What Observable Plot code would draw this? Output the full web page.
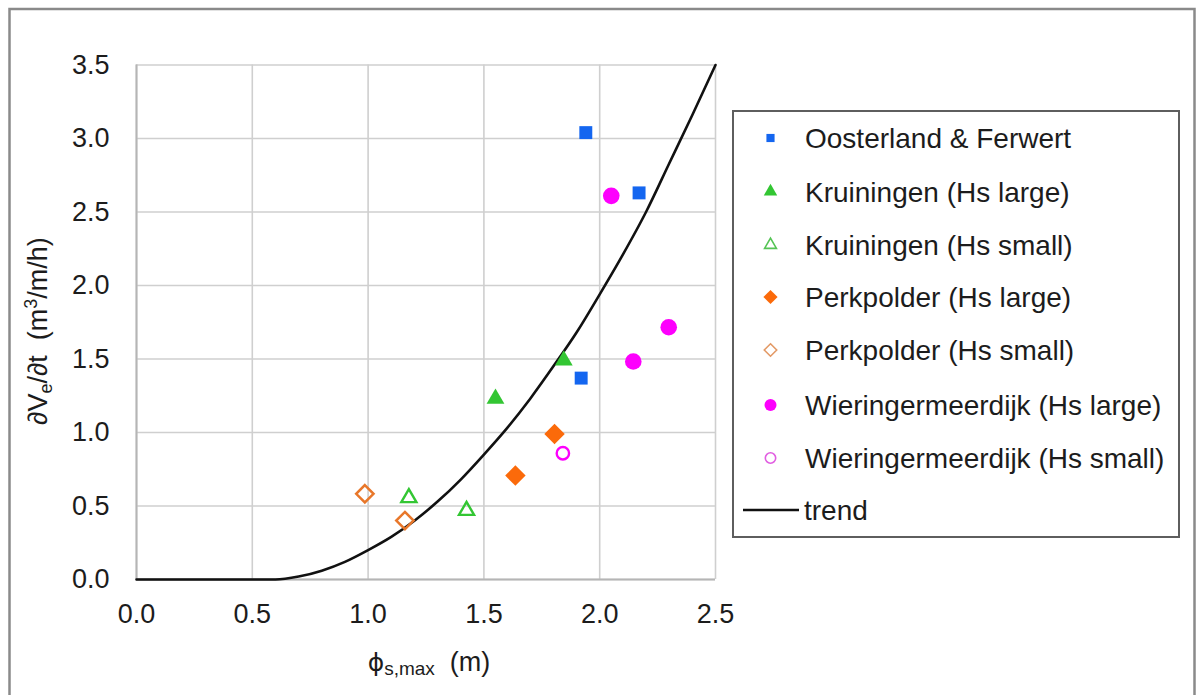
<!DOCTYPE html>
<html>
<head>
<meta charset="utf-8">
<script src="https://cdn.jsdelivr.net/npm/d3@7"></script>
<script src="https://cdn.jsdelivr.net/npm/@observablehq/plot@0.6"></script>
<style>
  html, body { margin: 0; padding: 0; background: #fff; }
  #chart { width: 1200px; height: 695px; overflow: hidden; }
</style>
</head>
<body>
<div id="chart"></div>
<script>
// ---- data ----
const xTicks = [0.0, 0.5, 1.0, 1.5, 2.0, 2.5];
const yTicks = [0.0, 0.5, 1.0, 1.5, 2.0, 2.5, 3.0, 3.5];

const seriesNames = [
  "Oosterland & Ferwert",
  "Kruiningen (Hs large)",
  "Kruiningen (Hs small)",
  "Perkpolder (Hs large)",
  "Perkpolder (Hs small)",
  "Wieringermeerdijk (Hs large)",
  "Wieringermeerdijk (Hs small)",
  "trend"
];

const oosterlandX = [1.94, 2.17, 1.92];
const oosterlandY = [3.04, 2.63, 1.37];
const kruiningenLargeX = [1.55, 1.845];
const kruiningenLargeY = [1.23, 1.49];
const kruiningenSmallX = [1.176, 1.425];
const kruiningenSmallY = [0.556, 0.469];
const perkpolderLargeX = [1.805, 1.636];
const perkpolderLargeY = [0.99, 0.707];
const perkpolderSmallX = [0.986, 1.159];
const perkpolderSmallY = [0.583, 0.401];
const wieringerLargeX = [2.05, 2.298, 2.145];
const wieringerLargeY = [2.61, 1.716, 1.483];
const wieringerSmallX = [1.841];
const wieringerSmallY = [0.859];

const trendX = [0.0, 0.1, 0.2, 0.3, 0.4, 0.5, 0.6, 0.7, 0.8, 0.9, 1.0, 1.1, 1.2, 1.3, 1.4, 1.5, 1.6, 1.7, 1.8, 1.9, 2.0, 2.1, 2.2, 2.3, 2.4, 2.5];
const trendY = [0, 0, 0, 0, 0, 0, 0, 0.02, 0.06, 0.12, 0.20, 0.29, 0.40, 0.53, 0.68, 0.85, 1.03, 1.23, 1.45, 1.68, 1.94, 2.21, 2.50, 2.83, 3.16, 3.50];

// ---- styles ----
const cBlue = "#1466f0";
const cGreen = "#33c633";
const cOrange = "#fb6a0a";
const cOrangeOpen = "#e8772a";
const cMagenta = "#fd00fd";

const zip = (xs, ys) => xs.map((x, i) => ({x, y: ys[i]}));
const trend = zip(trendX, trendY);

const fmt = d3.format(".1f");

const chart = Plot.plot({
  width: 1200,
  height: 695,
  marginLeft: 136,
  marginRight: 485,
  marginTop: 64.5,
  marginBottom: 116,
  style: {fontFamily: "'Liberation Sans', Arial, sans-serif", fontSize: "27px", color: "#1c1c1c", background: "transparent"},
  x: {domain: [0, 2.5], ticks: xTicks, tickFormat: fmt, tickSize: 0, tickPadding: 24, label: null},
  y: {domain: [0, 3.5], ticks: yTicks, tickFormat: fmt, tickSize: 0, tickPadding: 27, label: null},
  marks: [
    Plot.ruleX(xTicks, {stroke: "#cfcfcf", strokeWidth: 1.6}),
    Plot.ruleY(yTicks, {stroke: "#cfcfcf", strokeWidth: 1.6}),
    Plot.ruleX([0], {stroke: "#b5b5b5", strokeWidth: 2}),
    Plot.ruleY([0], {stroke: "#b5b5b5", strokeWidth: 2}),
    Plot.line(trend, {x: "x", y: "y", stroke: "#111", strokeWidth: 2.6, curve: "monotone-x"}),
    Plot.dot(zip(oosterlandX, oosterlandY), {x: "x", y: "y", symbol: "square", r: 7.3, fill: cBlue}),
    Plot.dot(zip(kruiningenLargeX, kruiningenLargeY), {x: "x", y: "y", symbol: "triangle", r: 6.6, fill: cGreen}),
    Plot.dot(zip(kruiningenSmallX, kruiningenSmallY), {x: "x", y: "y", symbol: "triangle", r: 5.6, fill: "none", stroke: cGreen, strokeWidth: 2.4}),
    Plot.dot(zip(perkpolderLargeX, perkpolderLargeY), {x: "x", y: "y", symbol: "diamond2", r: 9.2, fill: cOrange}),
    Plot.dot(zip(perkpolderSmallX, perkpolderSmallY), {x: "x", y: "y", symbol: "diamond2", r: 7.8, fill: "none", stroke: cOrangeOpen, strokeWidth: 2.5}),
    Plot.dot(zip(wieringerLargeX, wieringerLargeY), {x: "x", y: "y", symbol: "circle", r: 8.3, fill: cMagenta}),
    Plot.dot(zip(wieringerSmallX, wieringerSmallY), {x: "x", y: "y", symbol: "circle", r: 6.2, fill: "none", stroke: cMagenta, strokeWidth: 2.4})
  ]
});

document.getElementById("chart").appendChild(chart);

// ---- decorations: border, axis titles, legend ----
const svg = d3.select(chart);
svg.insert("rect", ":first-child")
  .attr("x", 0).attr("y", 0).attr("width", 1200).attr("height", 695).attr("fill", "#fff");
svg.append("rect")
  .attr("x", 9.5).attr("y", 9).attr("width", 1185).attr("height", 720)
  .attr("fill", "none").attr("stroke", "#8a8a8a").attr("stroke-width", 2.5);

const font = "'Liberation Sans', Arial, sans-serif";

// y title
const yt = svg.append("text")
  .attr("transform", "translate(47,331) rotate(-90)")
  .attr("text-anchor", "middle")
  .attr("font-family", font).attr("font-size", 27).attr("fill", "#1c1c1c");
yt.append("tspan").text("\u2202V");
yt.append("tspan").attr("font-size", 18).attr("dy", 5).text("e");
yt.append("tspan").attr("dy", -5).text("/\u2202t\u00a0\u00a0(m");
yt.append("tspan").attr("font-size", 18).attr("dy", -10).text("3");
yt.append("tspan").attr("dy", 10).text("/m/h)");

// x title
const xt = svg.append("text")
  .attr("x", 429).attr("y", 671)
  .attr("text-anchor", "middle")
  .attr("font-family", font).attr("font-size", 27).attr("fill", "#1c1c1c");
xt.append("tspan").attr("font-family", "'DejaVu Sans', sans-serif").attr("font-size", 25).text("\u03d5");
xt.append("tspan").attr("font-size", 19).attr("dy", 4).text("s,max");
xt.append("tspan").attr("dy", -4).text("\u00a0\u00a0(m)");

// legend
const lg = svg.append("g").attr("text-anchor", "start");
lg.append("rect")
  .attr("x", 733).attr("y", 111).attr("width", 446).attr("height", 426)
  .attr("fill", "#fff").attr("stroke", "#5e5e5e").attr("stroke-width", 2);

const rowY = [138, 191.5, 245, 297, 350, 405, 458, 510];
const sym = (type, r) => d3.symbol(type, Math.PI * r * r)();
const legendSymbols = [
  {path: sym(d3.symbolSquare, 4.6), fill: cBlue, stroke: "none"},
  {path: sym(d3.symbolTriangle, 5.0), fill: cGreen, stroke: "none"},
  {path: sym(d3.symbolTriangle, 4.4), fill: "none", stroke: "#55c455"},
  {path: sym(d3.symbolDiamond2, 6.4), fill: cOrange, stroke: "none"},
  {path: sym(d3.symbolDiamond2, 5.6), fill: "none", stroke: "#e39a66"},
  {path: sym(d3.symbolCircle, 6.0), fill: cMagenta, stroke: "none"},
  {path: sym(d3.symbolCircle, 5.2), fill: "none", stroke: "#e15ee1"}
];
legendSymbols.forEach((s, i) => {
  lg.append("path")
    .attr("d", s.path)
    .attr("transform", `translate(770.5,${rowY[i]})`)
    .attr("fill", s.fill).attr("stroke", s.stroke).attr("stroke-width", 1.6);
});
lg.append("line")
  .attr("x1", 743).attr("x2", 799).attr("y1", rowY[7]).attr("y2", rowY[7])
  .attr("stroke", "#111").attr("stroke-width", 2.6);
seriesNames.forEach((name, i) => {
  lg.append("text")
    .attr("text-anchor", "start")
    .attr("x", i === 7 ? 804 : 805).attr("y", rowY[i]).attr("dy", "0.36em")
    .attr("font-family", font).attr("font-size", 28).attr("fill", "#1c1c1c")
    .text(name);
});
</script>
</body>
</html>
